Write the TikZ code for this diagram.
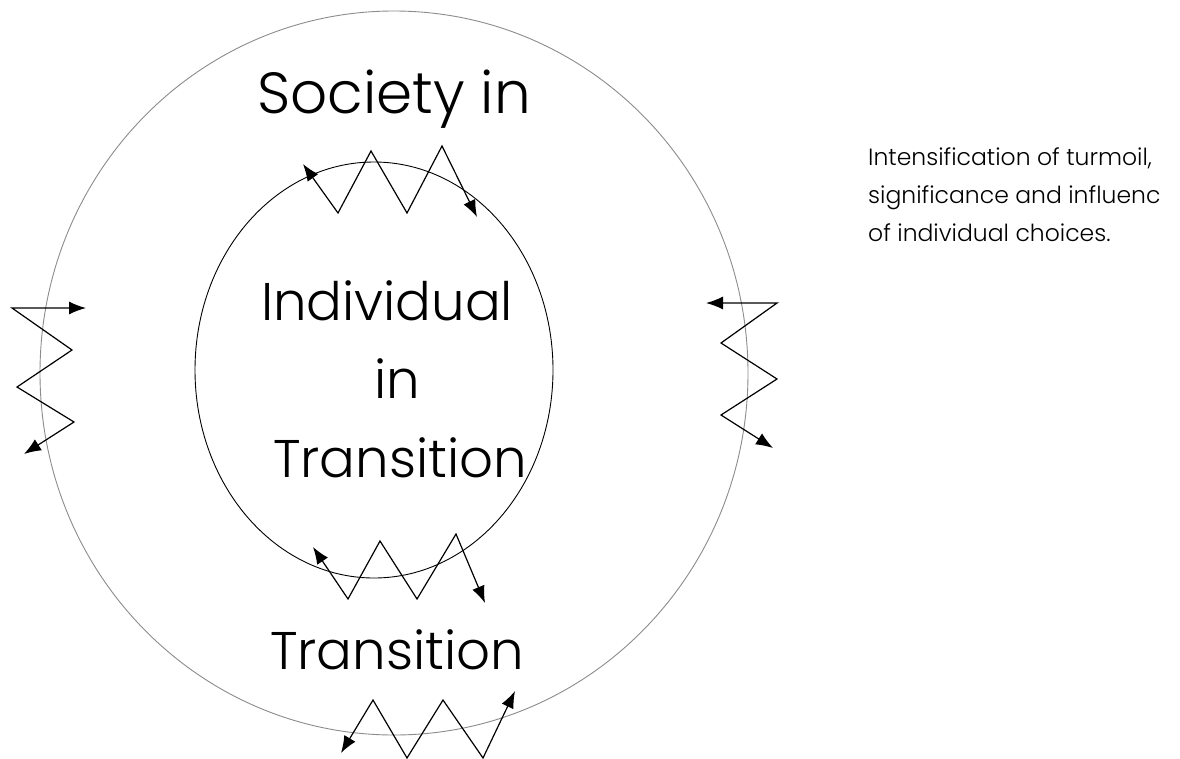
\documentclass[tikz,border=0pt]{standalone}
\usepackage{fontspec}
\setmainfont{Poppins}[UprightFont=* Light]
\usetikzlibrary{arrows.meta}
\tikzset{
  titletext/.style={font=\fontsize{58}{60}\selectfont, anchor=base, inner sep=0pt},
  bigtext/.style={font=\fontsize{53}{55}\selectfont, anchor=base, inner sep=0pt},
  smalltext/.style={font=\fontsize{23.5}{25}\selectfont, anchor=base west, inner sep=0pt},
  zig/.style={line width=1.2pt, black, line join=miter, {Latex[length=17pt,width=13pt]}-{Latex[length=17pt,width=13pt]}},
  outerring/.style={draw=black!45, line width=0.9pt},
  innerring/.style={draw=black, line width=0.9pt}
}
\begin{document}
\begin{tikzpicture}[x=1pt,y=-1pt]
\useasboundingbox (0,0) rectangle (1180,758);
\fill[white] (0,0) rectangle (1180,758);
% rings
\draw[outerring] (394,373) ellipse [x radius=354, y radius=362];
\draw[innerring] (374,370) ellipse [x radius=179, y radius=208];
% texts
\node[titletext] (soc) at (394,113) {Society in};
\node[bigtext] (ind) at (387,320) {Individual};
\node[bigtext] (in2) at (397,398) {in};
\node[bigtext] (tr1) at (400,477) {Transition};
\node[bigtext] (tr2) at (397,669) {Transition};
\node[smalltext] (r1) at (868,165) {Intensification of turmoil,};
\node[smalltext] (r2) at (868,203) {significance and influenc};
\node[smalltext] (r3) at (868,241) {of individual choices.};
% top
\coordinate (t0) at (303,164);
\coordinate (t1) at (338,213);
\coordinate (t2) at (371,151);
\coordinate (t3) at (407,213);
\coordinate (t4) at (442,146);
\coordinate (t5) at (477,217);
\draw[zig] (t0) -- (t1) -- (t2) -- (t3) -- (t4) -- (t5);
% left
\coordinate (l0) at (86,308);
\coordinate (l1) at (12,308);
\coordinate (l2) at (72,350);
\coordinate (l3) at (17,387);
\coordinate (l4) at (74,422);
\coordinate (l5) at (24,454);
\draw[zig] (l0) -- (l1) -- (l2) -- (l3) -- (l4) -- (l5);
% right
\coordinate (q0) at (706,303);
\coordinate (q1) at (777,303);
\coordinate (q2) at (721,343);
\coordinate (q3) at (777,379);
\coordinate (q4) at (721,415);
\coordinate (q5) at (773,448);
\draw[zig] (q0) -- (q1) -- (q2) -- (q3) -- (q4) -- (q5);
% middle bottom
\coordinate (m0) at (313,547);
\coordinate (m1) at (348,599);
\coordinate (m2) at (380,541);
\coordinate (m3) at (417,599);
\coordinate (m4) at (456,534);
\coordinate (m5) at (485,603);
\draw[zig] (m0) -- (m1) -- (m2) -- (m3) -- (m4) -- (m5);
% bottom
\coordinate (b0) at (341,753);
\coordinate (b1) at (373,700);
\coordinate (b2) at (407,758);
\coordinate (b3) at (443,700);
\coordinate (b4) at (483,758);
\coordinate (b5) at (515,691);
\draw[zig] (b0) -- (b1) -- (b2) -- (b3) -- (b4) -- (b5);
\end{tikzpicture}
\end{document}
